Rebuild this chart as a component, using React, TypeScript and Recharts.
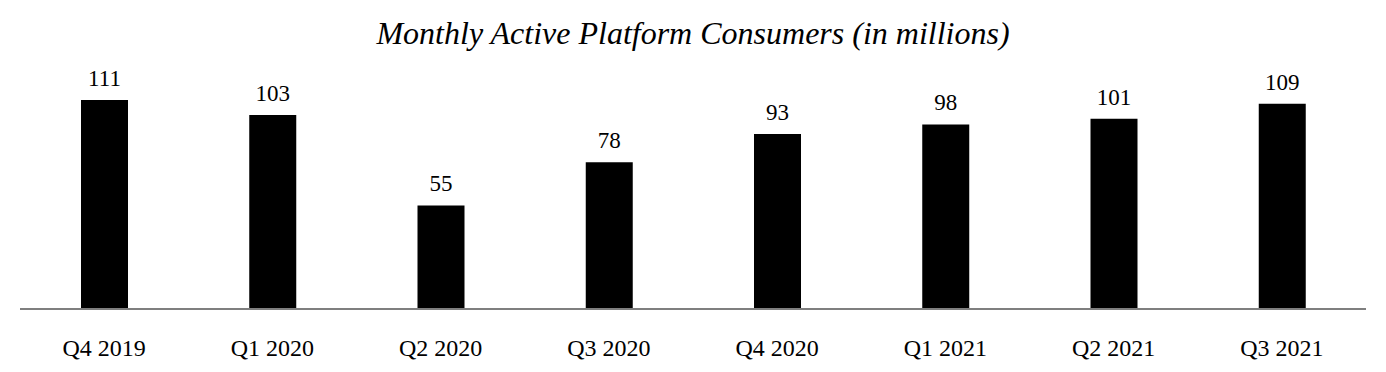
import React from 'react';
import { BarChart, Bar, XAxis, YAxis, LabelList } from 'recharts';

// quarters shown along the bottom
const quarters = ['Q4 2019', 'Q1 2020', 'Q2 2020', 'Q3 2020', 'Q4 2020', 'Q1 2021', 'Q2 2021', 'Q3 2021'];
// monthly active platform consumers, millions
const consumers = [111, 103, 55, 78, 93, 98, 101, 109];

const chartData = quarters.map((q, i) => ({ quarter: q, value: consumers[i] }));

const FONT = '"Liberation Serif", "Times New Roman", serif';

const QuarterTick = (props: any) => {
  const { x, y, payload } = props;
  return (
    <text x={x} y={y + 39} textAnchor="middle" fontFamily={FONT} fontSize={24} fill="#000">
      {payload.value}
    </text>
  );
};

export default function App() {
  return (
    <div style={{ position: 'absolute', left: 0, top: 0, width: 1386, height: 372, background: '#fff' }}>
      <svg width={1386} height={60} style={{ position: 'absolute', left: 0, top: 0 }}>
        <text x={693} y={43.5} textAnchor="middle" fontFamily={FONT} fontStyle="italic" fontSize={32} fill="#000">
          Monthly Active Platform Consumers (in millions)
        </text>
      </svg>
      <BarChart
        width={1386}
        height={372}
        data={chartData}
        margin={{ top: 100, right: 20, bottom: 33, left: 20 }}
      >
        <XAxis
          dataKey="quarter"
          interval={0}
          tickLine={false}
          axisLine={{ stroke: '#7f7f7f', strokeWidth: 2 }}
          tick={<QuarterTick />}
          height={30}
        />
        <YAxis hide domain={[0, 111]} />
        <Bar dataKey="value" fill="#000" barSize={47} isAnimationActive={false}>
          <LabelList dataKey="value" position="top" offset={14} fontFamily={FONT} fontSize={23} fill="#000" />
        </Bar>
      </BarChart>
    </div>
  );
}
